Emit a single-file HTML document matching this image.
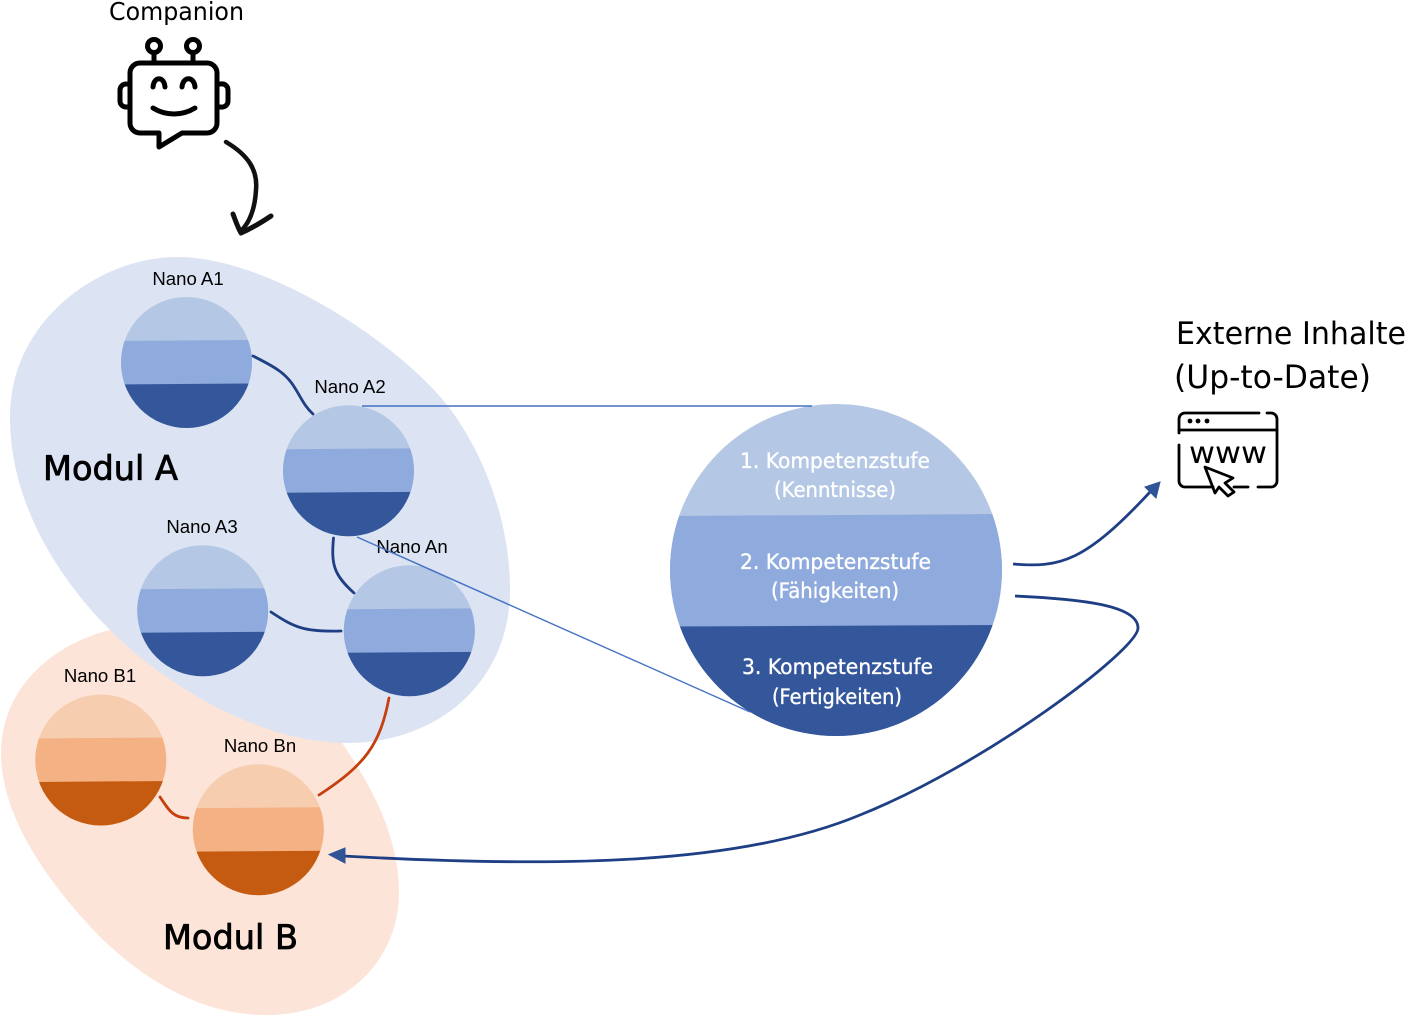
<!DOCTYPE html>
<html lang="de">
<head>
<meta charset="utf-8">
<title>Module und Kompetenzstufen</title>
<style>
html,body{margin:0;padding:0;background:#fff;overflow:hidden}
svg{display:block;overflow:hidden}
.n{font-family:"Liberation Sans",sans-serif;font-size:18.6px;fill:#000;text-anchor:middle}
.h{font-family:"DejaVu Sans","Liberation Sans",sans-serif;fill:#000}
.k{font-family:"DejaVu Sans","Liberation Sans",sans-serif;fill:#fff;font-size:21px;stroke:#fff;stroke-width:.35}
</style>
</head>
<body>
<svg xmlns="http://www.w3.org/2000/svg" width="1406" height="1016" viewBox="0 0 1406 1016">
<defs>
<clipPath id="c"><circle cx="0" cy="0" r="65.5"/></clipPath>
<g id="blue" clip-path="url(#c)">
<rect x="-70" y="-70" width="140" height="140" fill="#b4c7e4"/>
<polygon points="-70,-21.5 70,-22.5 70,21.5 -70,22.5" fill="#8faadc"/>
<polygon points="-70,22 70,21 70,70 -70,70" fill="#34569b"/>
</g>
<g id="orange" clip-path="url(#c)">
<rect x="-70" y="-70" width="140" height="140" fill="#f7cdb0"/>
<polygon points="-70,-21.5 70,-22.5 70,21.5 -70,22.5" fill="#f4b183"/>
<polygon points="-70,22 70,21 70,70 -70,70" fill="#c55a11"/>
</g>
<clipPath id="big"><circle cx="836" cy="570" r="166"/></clipPath>
</defs>

<!-- Module backgrounds -->
<path d="M110 630C50 645 1 690 1 753C1 815 45 880 100 937C155 990 210 1015 267 1015C345 1015 399 960 399 893C399 840 375 790 340 740L300 690L200 640Z" fill="#fce5d8"/>
<path d="M177 257C100 257 10 320 10 417C10 500 55 575 110 630C165 685 260 743 347 743C440 743 510 680 510 590C510 510 475 440 447 405C400 345 270 257 177 257Z" fill="#dce3f2"/>

<!-- Nano circles -->
<use href="#blue" x="186.5" y="362.5"/>
<use href="#blue" x="348.5" y="470.8"/>
<use href="#blue" x="202.7" y="610.8"/>
<use href="#blue" x="409.3" y="630.8"/>
<use href="#orange" x="100.8" y="760"/>
<use href="#orange" x="258.3" y="829.7"/>

<!-- Nano labels -->
<text class="n" x="188" y="285">Nano A1</text>
<text class="n" x="350" y="393">Nano A2</text>
<text class="n" x="202" y="533">Nano A3</text>
<text class="n" x="412" y="553">Nano An</text>
<text class="n" x="100" y="682">Nano B1</text>
<text class="n" x="260" y="752">Nano Bn</text>

<!-- Module labels -->
<text class="h" x="43" y="480" font-size="34" textLength="135" lengthAdjust="spacingAndGlyphs" stroke="#000" stroke-width=".8">Modul A</text>
<text class="h" x="163" y="949" font-size="34" textLength="135" lengthAdjust="spacingAndGlyphs" stroke="#000" stroke-width=".8">Modul B</text>

<!-- Connectors inside modules -->
<g fill="none" stroke="#1f3f85" stroke-width="2.8" stroke-linecap="round">
<path d="M253 356C275 367 285 373 293 385C301 397 304 406 313 414"/>
<path d="M333.5 538C331 565 334 575 354 593"/>
<path d="M271 612C295 628 305 632 341 631"/>
</g>
<g fill="none" stroke="#c5400f" stroke-width="2.8" stroke-linecap="round">
<path d="M389 698C380 745 365 765 319 795"/>
<path d="M160 797C170 812 174 818 188 818"/>
</g>

<!-- Big circle -->
<g clip-path="url(#big)">
<rect x="665" y="400" width="345" height="345" fill="#b4c7e4"/>
<polygon points="665,516 1010,514 1010,626 665,627" fill="#8faadc"/>
<polygon points="665,626.5 1010,625 1010,745 665,745" fill="#34569b"/>
</g>
<text class="k" x="740" y="468" textLength="190" lengthAdjust="spacingAndGlyphs">1. Kompetenzstufe</text>
<text class="k" x="774" y="497" textLength="122" lengthAdjust="spacingAndGlyphs">(Kenntnisse)</text>
<text class="k" x="740" y="569" textLength="191" lengthAdjust="spacingAndGlyphs">2. Kompetenzstufe</text>
<text class="k" x="771" y="598" textLength="128" lengthAdjust="spacingAndGlyphs">(Fähigkeiten)</text>
<text class="k" x="742" y="674" textLength="191" lengthAdjust="spacingAndGlyphs">3. Kompetenzstufe</text>
<text class="k" x="772" y="704" textLength="130" lengthAdjust="spacingAndGlyphs">(Fertigkeiten)</text>

<!-- Thin zoom lines -->
<g fill="none" stroke="#4472c4" stroke-width="1.4">
<path d="M362 406H812"/>
<path d="M357 537L750 712"/>
</g>

<!-- Long arrows -->
<g fill="none" stroke="#1f3f85" stroke-width="2.8">
<path d="M1013 564C1060 568 1085 562 1150 492"/>
<path d="M1015 596C1080 599 1138 605 1138 628C1138 650 985 765 860 815C740 865 560 868 343 856"/>
</g>
<polygon points="1160,482 1145,487 1156,498" fill="#2f5597" stroke="#2f5597"/>
<polygon points="329,854.5 345,848 345,863" fill="#2f5597" stroke="#2f5597"/>

<!-- Companion -->
<text class="h" x="109" y="20" font-size="25" textLength="135" lengthAdjust="spacingAndGlyphs">Companion</text>
<g fill="none" stroke="#000" stroke-width="5" stroke-linecap="round" stroke-linejoin="round">
<circle cx="154" cy="46" r="6.5"/>
<circle cx="193" cy="46" r="6.5"/>
<path d="M154 53V62M193 53V62"/>
<path d="M140 63H207A10 10 0 0 1 217 73V123A10 10 0 0 1 207 133H182L159 147V133H140A10 10 0 0 1 130 123V73A10 10 0 0 1 140 63Z"/>
<path d="M130 84H126A6 6 0 0 0 120 90V101A6 6 0 0 0 126 107H130"/>
<path d="M217 84H221A6 6 0 0 1 228 90V101A6 6 0 0 1 221 107H217"/>
<path d="M153 87C154 76 164 76 165 87"/>
<path d="M182 87C183 76 194 76 195 87"/>
<path d="M153 108C166 116 182 116 195 108"/>
</g>
<!-- Hand-drawn arrow -->
<g fill="none" stroke="#111" stroke-linecap="round" stroke-linejoin="round">
<path d="M226 142C248 155 258 170 256 190C255 208 250 222 241 231" stroke-width="4.5"/>
<path d="M233 214C236 222 238 228 241 233C250 229 262 222 271 216" stroke-width="5"/>
</g>

<!-- External content -->
<text class="h" x="1176" y="344" font-size="31" textLength="230" lengthAdjust="spacingAndGlyphs">Externe Inhalte</text>
<text class="h" x="1174" y="388" font-size="32" textLength="197" lengthAdjust="spacingAndGlyphs">(Up-to-Date)</text>
<g fill="none" stroke="#000" stroke-width="2.8" stroke-linecap="round" stroke-linejoin="round">
<path d="M1259 413H1185A6 6 0 0 0 1179 419V433"/>
<path d="M1267 413H1271A6 6 0 0 1 1277 419V481A6 6 0 0 1 1271 487H1258"/>
<path d="M1179 445V481A6 6 0 0 0 1185 487H1213"/>
<path d="M1234 487H1248"/>
<path d="M1179 430H1277"/>
<polygon points="1205,467 1233,478 1225,483 1234,492 1228,496 1219,487 1215,493"/>
</g>
<g fill="#000"><circle cx="1190" cy="421" r="2.4"/><circle cx="1198" cy="421" r="2.4"/><circle cx="1207" cy="421" r="2.4"/></g>
<text class="h" x="1189" y="463" font-size="30" textLength="78" lengthAdjust="spacingAndGlyphs">www</text>
</svg>
</body>
</html>
